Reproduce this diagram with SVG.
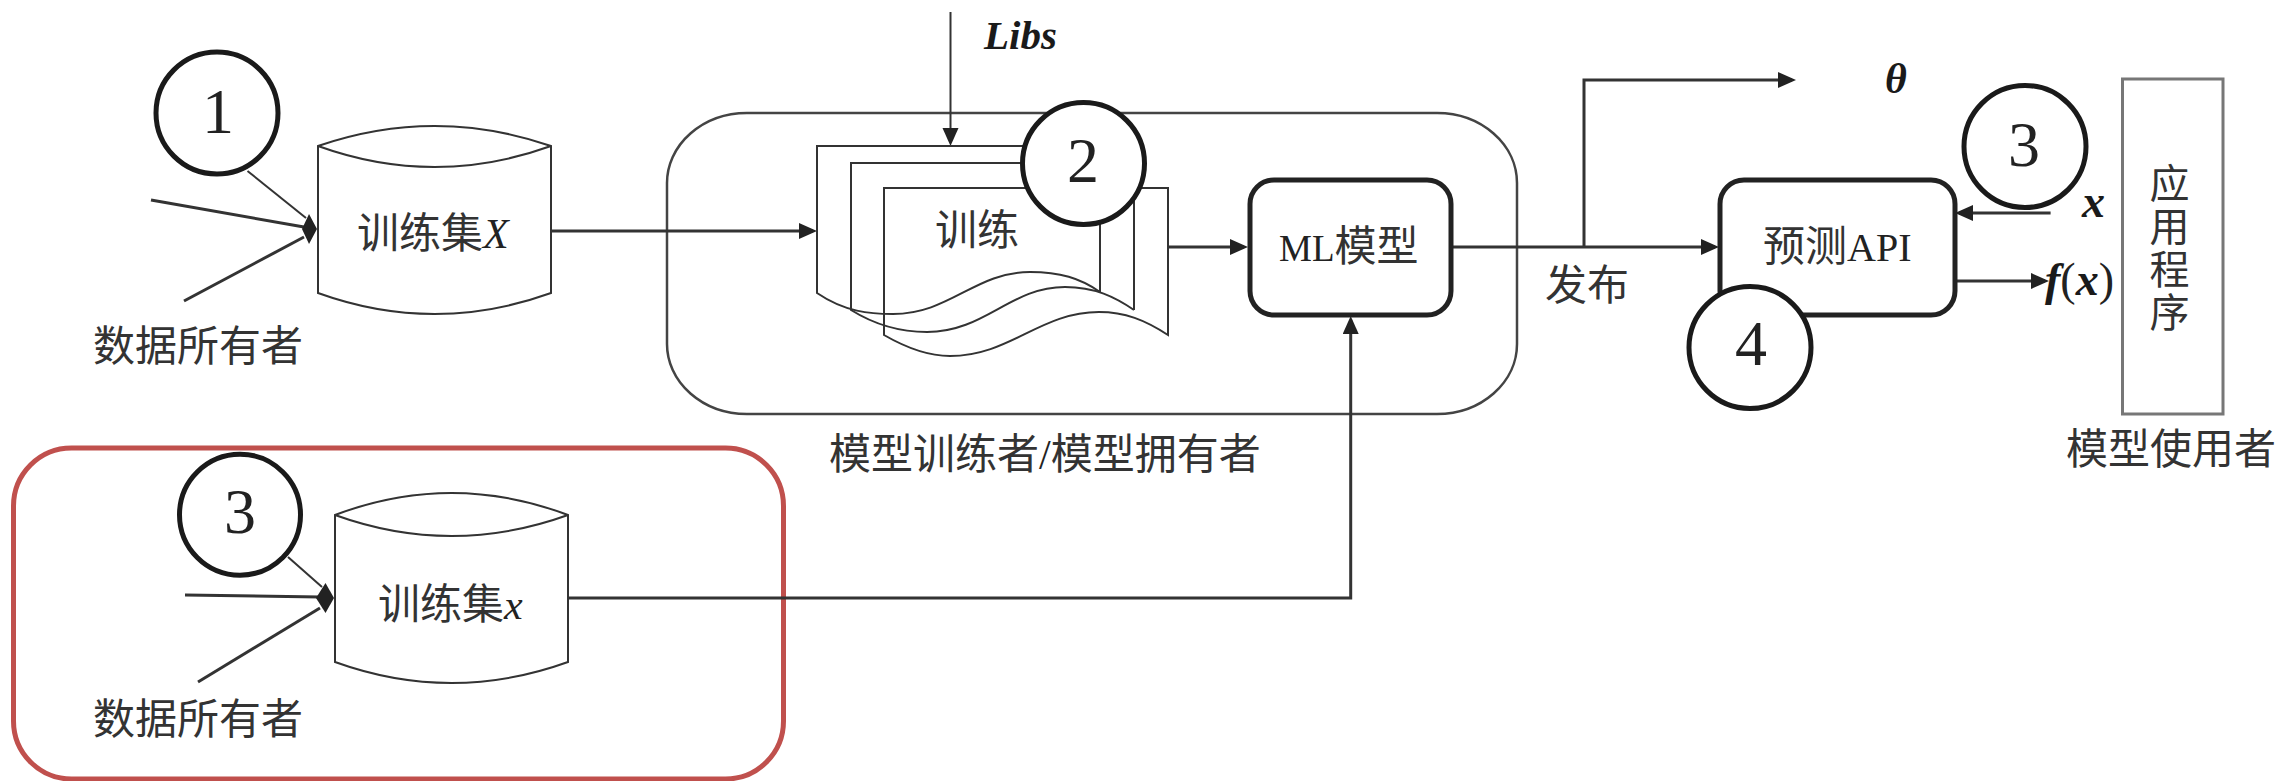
<svg xmlns="http://www.w3.org/2000/svg" width="2282" height="781" viewBox="0 0 2282 781">
<style>
.cn{font-family:"Noto Sans CJK SC","Liberation Serif",serif;font-size:42px;fill:#333}
.lat{font-family:"Liberation Serif","Noto Sans CJK SC",serif;fill:#222}
.num{font-family:"Liberation Serif",serif;font-size:64px;fill:#222;text-anchor:middle}
.bi{font-family:"Liberation Serif",serif;font-weight:bold;font-style:italic;fill:#1a1a1a}
.thin{fill:none;stroke:#333;stroke-width:2}
.page{fill:none;stroke:#333;stroke-width:2}
.box{fill:#fff;stroke:#222;stroke-width:5}
.circ{fill:#fff;stroke:#1a1a1a;stroke-width:5}
.conn{fill:none;stroke:#333;stroke-width:3}
.tip{fill:#222;stroke:none}
</style>
<defs>
<marker id="arrow" markerUnits="userSpaceOnUse" markerWidth="20" markerHeight="18" refX="14" refY="8" orient="auto">
<path d="M0 0L18 8L0 16Z" fill="#222"/>
</marker>
</defs>
<rect width="2282" height="781" fill="#fff"/>

<g id="owner-box"><rect x="667" y="113" width="850" height="301" rx="80" ry="70" fill="none" stroke="#444" stroke-width="2.5"/></g>
<g id="highlight"><rect x="13.500" y="448" width="770" height="331" rx="58" ry="58" fill="none" stroke="#c0504d" stroke-width="5"/></g>

<g id="connectors">
<path class="thin" d="M247.500 171L306 218"/>
<path class="conn" d="M151 200L304 227"/>
<path class="conn" d="M184 301L304 237"/>
<polygon class="tip" points="309,214 317,229 309,244 302,229"/>
<path class="thin" d="M288 557L322 587"/>
<path class="conn" d="M185 595L320 597"/>
<path class="conn" d="M198 682L320 608"/>
<polygon class="tip" points="325.500,583 334,598 325.500,613 316,598"/>
<path class="thin" d="M950.500 12V142" marker-end="url(#arrow)"/>
<path class="conn" d="M551 231H813" marker-end="url(#arrow)"/>
<path class="conn" d="M1167 247H1244" marker-end="url(#arrow)"/>
<path class="conn" d="M1451 247H1715" marker-end="url(#arrow)"/>
<path class="conn" d="M1584 247V80H1792" marker-end="url(#arrow)"/>
<path class="conn" d="M2050.600 213H1959" marker-end="url(#arrow)"/>
<path class="conn" d="M1957 281H2045" marker-end="url(#arrow)"/>
<path class="conn" d="M568 598H1350.700V320" marker-end="url(#arrow)"/>
</g>

<g id="dataset-X">
<path class="thin" fill="#fff" d="M318 146Q434.500 106 551 146V293Q434.500 335 318 293Z"/>
<path class="thin" d="M318 146Q434.500 188 551 146"/>
<text class="cn" x="357" y="248">训练集<tspan class="lat" font-style="italic" font-size="42">X</tspan></text>
</g>
<g id="owners-1"><text class="cn" x="93" y="361">数据所有者</text></g>
<g id="step-1"><circle class="circ" cx="217" cy="113" r="61"/><text class="num" x="218" y="133">1</text></g>

<g id="training">
<path class="page" d="M1100 292V146H817V293C845 312 870 314 893 314C950 314 975 272 1030 272C1060 272 1080 278 1100 292"/>
<path class="page" d="M1134 310V163H851V310C880 328 905 332 927 332C985 332 1010 287 1065 287C1095 287 1115 297 1134 310"/>
<path class="page" d="M1168 335V188H884V335C910 350 930 356 950 356C1010 356 1040 312 1099 312C1125 312 1145 320 1168 335Z" fill="none"/>
<text class="cn" x="935" y="245">训练</text>
</g>
<g id="step-2"><circle class="circ" cx="1083.500" cy="163.500" r="61"/><text class="num" x="1083" y="182">2</text></g>
<g id="libs"><text class="bi" x="984" y="49" font-size="41">Libs</text></g>

<g id="ml-model">
<rect class="box" x="1250" y="180" width="201" height="135" rx="24"/>
<text class="cn" x="1279" y="261"><tspan class="lat" font-size="37">ML</tspan>模型</text>
</g>
<g id="owner-caption"><text class="cn" x="829" y="469">模型训练者<tspan class="lat">/</tspan>模型拥有者</text></g>

<g id="publish"><text class="cn" x="1545" y="300">发布</text></g>
<g id="theta"><text class="bi" x="1885" y="93" font-size="42">θ</text></g>

<g id="predict-api">
<rect class="box" x="1720" y="180" width="235" height="135" rx="24"/>
<text class="cn" x="1763" y="261">预测<tspan class="lat" font-size="40">API</tspan></text>
</g>
<g id="step-4"><circle class="circ" cx="1750" cy="347.500" r="61"/><text class="num" x="1751" y="365">4</text></g>
<g id="step-3b"><circle class="circ" cx="2025" cy="146.500" r="61"/><text class="num" x="2024" y="166">3</text></g>
<g id="input-x"><text class="bi" x="2082" y="217" font-size="46">x</text></g>
<g id="output-fx"><text class="bi" x="2045" y="295" font-size="46">f<tspan class="lat" font-weight="normal" font-style="normal">(</tspan>x<tspan class="lat" font-weight="normal" font-style="normal">)</tspan></text></g>

<g id="application">
<rect x="2122.500" y="79" width="100.500" height="335" fill="#fff" stroke="#777" stroke-width="3"/>
<text class="cn" x="2169.500" y="163" style="writing-mode:vertical-rl;font-size:40px;letter-spacing:3px">应用程序</text>
</g>
<g id="user-caption"><text class="cn" x="2066" y="464">模型使用者</text></g>

<g id="dataset-x">
<path class="thin" fill="#fff" d="M335 515Q451.500 471 568 515V662Q451.500 704 335 662Z"/>
<path class="thin" d="M335 515Q451.500 557 568 515"/>
<text class="cn" x="378" y="619">训练集<tspan class="lat" font-style="italic" font-size="42">x</tspan></text>
</g>
<g id="owners-2"><text class="cn" x="93" y="734">数据所有者</text></g>
<g id="step-3a"><circle class="circ" cx="240" cy="514.700" r="60.500"/><text class="num" x="240" y="533">3</text></g>
</svg>
